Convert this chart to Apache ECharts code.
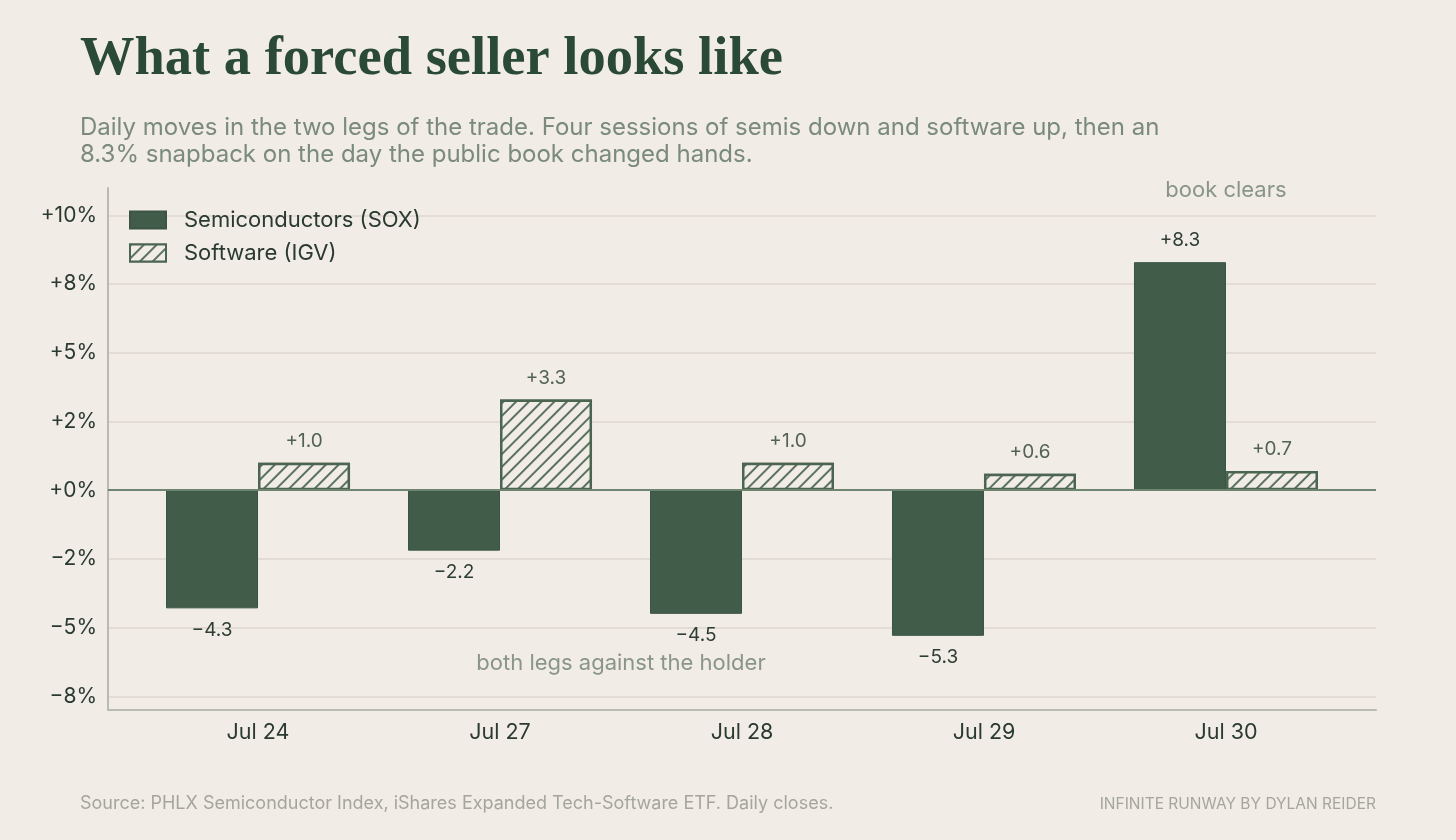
<!DOCTYPE html>
<html>
<head>
<meta charset="utf-8">
<script src="https://cdn.jsdelivr.net/npm/echarts@6/dist/echarts.min.js"></script>
<style>
  html, body { margin: 0; padding: 0; background: #f1ece5; }
  #chart { width: 1456px; height: 840px; }
</style>
</head>
<body>
<div id="chart"></div>
<script>
// data
var days = ['Jul 24', 'Jul 27', 'Jul 28', 'Jul 29', 'Jul 30'];
var semis = [-4.3, -2.2, -4.5, -5.3, 8.3];
var software = [1.0, 3.3, 1.0, 0.6, 0.7];
var yTicks = [-7.5, -5, -2.5, 0, 2.5, 5, 7.5, 10];
var yTickLabels = ['\u22128%', '\u22125%', '\u22122%', '+0%', '+2%', '+5%', '+8%', '+10%'];
var notes = [
    { name: 'book clears', value: [4, 10.9] },
    { name: 'both legs against the holder', value: [1.5, -6.3] }
];

var bg = '#f1ece5';
var green = '#425c4a';
var font = 'Inter';

function fmt(v) {
    return (v < 0 ? '\u2212' : '+') + Math.abs(v).toFixed(1);
}

// label above positive bars, below negative ones
function barData(arr) {
    return arr.map(function (v, i) {
        return {
            value: [i, v],
            label: { position: v < 0 ? 'bottom' : 'top' }
        };
    });
}

var dom = document.getElementById('chart');
var myChart = echarts.init(dom, null, { renderer: 'canvas' });

var option = {
    backgroundColor: bg,
    animation: false,
    title: [{
        text: 'What a forced seller looks like',
        left: 75,
        top: 27,
        textStyle: {
            fontFamily: 'Liberation Serif',
            fontWeight: 'bold',
            fontSize: 54.5,
            color: '#2a4a35'
        }
    }, {
        text: 'Daily moves in the two legs of the trade. Four sessions of semis down and software up, then an\n8.3% snapback on the day the public book changed hands.',
        left: 75,
        top: 109,
        textStyle: {
            fontFamily: font,
            fontWeight: 'normal',
            fontSize: 24,
            lineHeight: 27,
            color: '#7a8a7c'
        }
    }, {
        text: 'Source: PHLX Semiconductor Index, iShares Expanded Tech-Software ETF. Daily closes.',
        left: 75,
        top: 790,
        textStyle: { fontFamily: font, fontWeight: 'normal', fontSize: 18, color: '#a4a69d' }
    }, {
        text: 'INFINITE RUNWAY BY DYLAN REIDER',
        right: 75,
        top: 791,
        textStyle: { fontFamily: font, fontWeight: 'normal', fontSize: 15.5, color: '#a4a69d' }
    }],
    legend: {
        orient: 'vertical',
        left: 124,
        top: 204,
        icon: 'rect',
        itemWidth: 36,
        itemHeight: 17,
        itemGap: 11,
        data: ['Semiconductors (SOX)', 'Software (IGV)'],
        textStyle: { fontFamily: font, fontSize: 22, color: '#2a3a2e', padding: [0, 0, 0, 13] }
    },
    grid: { left: 108, right: 80, top: 188, bottom: 130 },
    xAxis: {
        type: 'value',
        min: -0.62,
        max: 4.62,
        splitLine: { show: false },
        axisTick: { show: false },
        axisLine: { show: true, onZero: false, lineStyle: { color: '#b9bab0', width: 2 } },
        axisLabel: {
            customValues: [0, 1, 2, 3, 4],
            formatter: function (v) { return days[Math.round(v)]; },
            margin: 12,
            fontFamily: font,
            fontSize: 21.5,
            color: '#2a3a2e'
        }
    },
    yAxis: {
        type: 'value',
        min: -8,
        max: 11,
        axisLine: { show: true, onZero: false, lineStyle: { color: '#b9bab0', width: 2 } },
        axisTick: { show: false, customValues: yTicks },
        splitLine: { show: true, lineStyle: { color: '#dcd7ce', width: 1.5 } },
        axisLabel: {
            customValues: yTicks,
            formatter: function (v) { return yTickLabels[yTicks.indexOf(v)]; },
            margin: 11,
            fontFamily: font,
            fontSize: 21,
            color: '#2a3a2e'
        }
    },
    series: [{
        name: 'Semiconductors (SOX)',
        type: 'bar',
        barWidth: 92,
        barGap: '0%',
        data: barData(semis),
        itemStyle: { color: green, borderColor: '#3b5443', borderWidth: 1 },
        label: {
            show: true,
            distance: 12,
            formatter: function (p) { return fmt(p.value[1]); },
            fontFamily: font,
            fontSize: 19,
            color: '#2d3d31'
        },
        markLine: {
            silent: true,
            symbol: 'none',
            label: { show: false },
            lineStyle: { color: '#6f8572', width: 2, type: 'solid' },
            data: [{ yAxis: 0 }]
        }
    }, {
        name: 'Software (IGV)',
        type: 'bar',
        barWidth: 92,
        barGap: '0%',
        data: barData(software),
        itemStyle: {
            color: bg,
            borderColor: '#4b6551',
            borderWidth: 2.5,
            decal: {
                symbol: 'rect',
                symbolSize: 1,
                color: '#5b7161',
                backgroundColor: bg,
                dashArrayX: [1, 0],
                dashArrayY: [2, 7],
                rotation: -Math.PI / 4
            }
        },
        label: {
            show: true,
            distance: 12,
            formatter: function (p) { return fmt(p.value[1]); },
            fontFamily: font,
            fontSize: 19,
            color: '#526354'
        }
    }, {
        name: 'notes',
        type: 'scatter',
        symbolSize: 0,
        data: notes,
        silent: true,
        label: {
            show: true,
            position: 'inside',
            formatter: '{b}',
            fontFamily: font,
            fontSize: 22,
            color: '#6e7f70'
        }
    }]
};

myChart.setOption(option);
</script>
</body>
</html>
